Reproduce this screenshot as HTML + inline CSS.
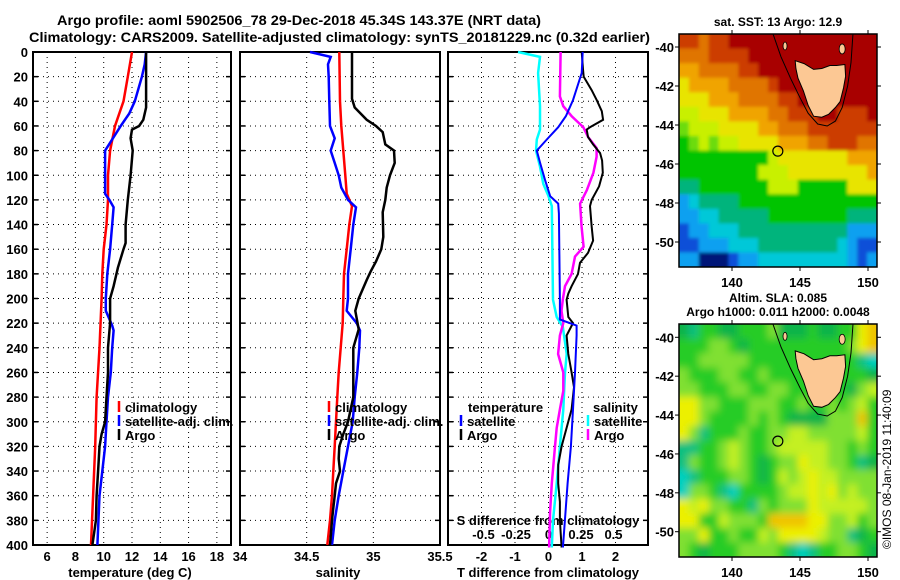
<!DOCTYPE html>
<html><head><meta charset="utf-8">
<style>
html,body{margin:0;padding:0;background:#fff;}
svg{display:block;font-family:"Liberation Sans",sans-serif;font-weight:bold;}
</style></head>
<body>
<svg id="fig" width="900" height="580" viewBox="0 0 900 580" xmlns="http://www.w3.org/2000/svg">
<defs>
<filter id="blurSla" x="-5%" y="-5%" width="110%" height="110%"><feGaussianBlur stdDeviation="4"/></filter>
<filter id="blurSst" x="-5%" y="-5%" width="110%" height="110%"><feGaussianBlur stdDeviation="1.5"/></filter>
<clipPath id="clipTop"><rect x="679" y="34" width="198" height="233"/></clipPath>
<clipPath id="clipBot"><rect x="679" y="324" width="198" height="233"/></clipPath>
</defs>
<rect width="900" height="580" fill="#fff"/>
<text x="57" y="25" font-size="14" textLength="484" lengthAdjust="spacingAndGlyphs">Argo profile: aoml 5902506_78 29-Dec-2018 45.34S 143.37E (NRT data)</text>
<text x="29" y="42" font-size="14" textLength="621" lengthAdjust="spacingAndGlyphs">Climatology: CARS2009. Satellite-adjusted climatology: synTS_20181229.nc (0.32d earlier)</text>
<g id="plots"></g>
<text x="778" y="26" font-size="12" text-anchor="middle">sat. SST: 13 Argo: 12.9</text>
<text x="778" y="302" font-size="12" text-anchor="middle">Altim. SLA: 0.085</text>
<text x="778" y="316" font-size="12" text-anchor="middle">Argo h1000: 0.011 h2000: 0.0048</text>
<text transform="translate(891,549) rotate(-90)" font-size="12" font-weight="normal">©IMOS 08-Jan-2019 11:40:09</text>
</svg>
<script>
// ---------- profile data ----------
const tempClimDepth=[0,20,40,60,80,100,120,140,160,180,200,240,280,320,360,400];
const tempClim=[12.0,11.7,11.4,10.8,10.45,10.3,10.3,10.2,10.0,9.9,9.85,9.7,9.5,9.4,9.25,9.1];
const tempSatDepth=[0,10,20,40,50,60,70,80,100,115,120,126,140,160,180,200,210,222,226,240,260,280,300,320,340,360,400];
const tempSat=[13.0,12.9,12.7,12.2,11.8,11.2,10.65,10.1,10.1,10.1,10.4,10.7,10.6,10.45,10.25,10.15,10.15,10.6,10.7,10.6,10.5,10.3,10.2,10.1,9.9,9.7,9.55];
const tempArgoDepth=[0,45,55,60,63,70,80,100,120,140,155,160,175,190,200,220,240,260,280,300,310,320,340,360,380,400];
const tempArgo=[13.0,13.0,12.8,12.5,12.0,11.9,12.05,11.9,11.7,11.55,11.55,11.4,11.0,10.7,10.45,10.45,10.3,10.3,10.2,10.1,9.85,9.7,9.6,9.5,9.45,9.2];
const salClimDepth=[0,40,60,80,100,115,125,140,160,180,200,220,240,260,280,300,320,340,360,380,400];
const salClim=[34.745,34.75,34.76,34.775,34.79,34.8,34.84,34.82,34.8,34.78,34.775,34.77,34.755,34.74,34.73,34.72,34.71,34.7,34.69,34.675,34.655];
const salSatDepth=[0,4,10,20,40,60,70,80,90,100,110,120,126,140,160,180,200,210,220,226,240,260,280,300,320,340,360,380,400];
const salSat=[34.525,34.68,34.66,34.665,34.67,34.675,34.71,34.68,34.71,34.74,34.76,34.81,34.87,34.85,34.83,34.81,34.81,34.8,34.875,34.9,34.895,34.88,34.86,34.845,34.81,34.775,34.74,34.71,34.69];
const salArgoDepth=[0,38,45,55,60,65,75,80,90,100,110,120,130,150,160,170,178,185,200,210,225,240,260,280,300,310,320,330,340,350,360,370,380,400];
const salArgo=[34.84,34.84,34.86,34.95,35.02,35.07,35.09,35.155,35.16,35.125,35.1,35.09,35.07,35.075,35.06,35.02,34.98,34.95,34.89,34.865,34.89,34.85,34.85,34.85,34.81,34.775,34.745,34.74,34.75,34.72,34.71,34.7,34.69,34.675];
const dTSatDepth=[0,17,39,52,61,71,80,90,104,117,123,131,201,217,222,230,260,290,320,350,380,402];
const dTSat=[1.02,0.99,0.73,0.52,0.29,-0.05,-0.35,-0.25,-0.1,0.05,0.29,0.31,0.34,0.34,0.84,0.84,0.79,0.73,0.67,0.57,0.49,0.43];
const dTArgoDepth=[0,14,20,31,39,48,55,61,63,69,75,82,88,98,109,120,125,142,153,163,171,180,190,196,201,215,220,230,245,260,272,290,305,320,335,350,365,380,402];
const dTArgo=[0.99,1.03,1.05,1.29,1.44,1.59,1.63,1.24,1.14,1.18,1.33,1.54,1.6,1.62,1.51,1.29,1.24,1.29,1.33,1.18,0.94,0.88,0.69,0.59,0.54,0.59,0.73,0.54,0.59,0.69,0.76,0.69,0.54,0.39,0.29,0.29,0.34,0.34,0.39];
const dSSatDepth=[0,4,17,44,63,71,80,93,107,117,125,201,215,223,245,260,290,320,350,380,402];
const dSSat=[-0.235,-0.065,-0.08,-0.065,-0.065,-0.09,-0.096,-0.065,-0.04,0,0.025,0.035,0.063,0.11,0.14,0.127,0.114,0.088,0.063,0.035,0.025];
const dSArgoDepth=[0,36,44,52,61,69,78,85,98,112,123,142,158,166,180,190,201,210,220,230,245,260,275,290,305,320,350,373,402];
const dSArgo=[0.093,0.088,0.114,0.178,0.268,0.305,0.37,0.37,0.345,0.295,0.243,0.255,0.27,0.204,0.178,0.127,0.11,0.1,0.114,0.088,0.074,0.114,0.114,0.088,0.063,0.05,0.025,0.012,0.005];
const depthTicks=[0,20,40,60,80,100,120,140,160,180,200,220,240,260,280,300,320,340,360,380,400];
const tempTicks=[6,8,10,12,14,16,18];
const salTicks=[34,34.5,35,35.5];
const salTickLabels=["34","34.5","35","35.5"];
const dTTicks=[-2,-1,0,1,2];
const dSTicks=[-0.5,-0.25,0,0.25,0.5];
const dSTickLabels=["-0.5","-0.25","0","0.25","0.5"];

// ---------- map data ----------
const sstRows=[
"rrorrRRRRRRRRRRRRRRR",
"ooorrrrRRRRRRRRRRRRR",
"aaoooorrRRRRRRRRRRRR",
"yaaaaoooorRRRRRRRRRR",
"yyyaaaoooorrRRRRRRRR",
"YYyyyaaaaoorrrRRrrrR",
"lYYYyyyyaaooorrrrrrr",
"glYlYYyyyyaaaoorrroo",
"gggggggggYyyyyyyyaaa",
"ggggggggYYYyyyyyyyya",
"ttgggggggYYYgggggyyy",
"bcttttgggggggggggggg",
"bbcctttttggggggggttt",
"Bbbccctttttttttttbbb",
"BBbbbcccttttttttcbBB",
"bbNNNBbbcccccccccbBb"];
const slaRows=[
"GtggGGggglGGGgGGggyo",
"gggllgGgggggggggglyo",
"gglllllgggggggggggtc",
"lgggllgglggggggggggG",
"llgggllggllggggggGlY",
"yyllggglllgglgglglYg",
"yylgggglglgGGGGlllog",
"yltggglggllYYlllllYg",
"ttgglYlgglYYYYYllglg",
"tlgglYlgGgllyYYllgtG",
"ctgggllgGgYlYyYYllll",
"cllgtcgggglYYyYylYll",
"yYyllggtlglllyYYYYYl",
"yyggYlllgooooyyllYgl",
"llygglggYlyyyyYlltGg",
"lgGgggllllgtctggllgG"];
const sstColors={R:"#a80000",r:"#cc3c00",o:"#e07400",a:"#f0a400",y:"#e8e400",Y:"#c8f000",l:"#6cdc10",g:"#00c400",t:"#00b47c",c:"#00c8d8",b:"#10a0f0",B:"#1050d8",N:"#001478"};
const slaColors={g:"#28cc28",G:"#10b448",l:"#80e030",Y:"#c4f020",y:"#ecf000",o:"#f0c400",t:"#10c080",c:"#00d0c0"};
const latTicks=[-40,-42,-44,-46,-48,-50];
const lonTicks=[140,145,150];
const tasmania=[[144.65,-40.7],[145.3,-40.85],[146,-41.15],[146.6,-41.1],[147.2,-40.95],[147.7,-40.95],[148.3,-40.9],[148.35,-41.5],[148.2,-42.1],[147.95,-42.8],[147.6,-43.1],[147.1,-43.45],[146.6,-43.6],[146.0,-43.55],[145.6,-43.0],[145.25,-42.25],[144.85,-41.6],[144.7,-41.1]];
const shelfLine=[[143.0,-39.3],[143.6,-40.5],[144.3,-41.6],[145.0,-42.6],[145.6,-43.4],[146.3,-43.95],[147.0,-44.05],[147.6,-43.8],[148.1,-43.1],[148.5,-42.0],[148.75,-40.8],[148.9,-39.3]];
const argoLon=143.37, argoLat=-45.34;

// ---------- drawing ----------
const NS="http://www.w3.org/2000/svg";
const root=document.getElementById('plots');
function mk(tag,attrs,parent){const e=document.createElementNS(NS,tag);for(const k in attrs)e.setAttribute(k,attrs[k]);(parent||root).appendChild(e);return e;}
function txt(s,x,y,size,anchor,parent){const t=mk('text',{x:x,y:y,'font-size':size,'text-anchor':anchor||'start'},parent);t.textContent=s;return t;}

const TOP=52,BOT=545;
const yD=d=>TOP+d*(BOT-TOP)/400;
function line(xf,xs,ds,color,w,name){
  const p=xs.map((v,i)=>xf(v).toFixed(1)+','+yD(ds[i]).toFixed(1)).join(' ');
  const el=mk('polyline',{points:p,fill:'none',stroke:color,'stroke-width':w,'stroke-linejoin':'miter'});
  
  
}
function panel(x0,x1,name,xf,xt){
  const g=mk('g',{});
  
  
  depthTicks.forEach(d=>{ if(d>0&&d<400){mk('line',{x1:x0,x2:x1,y1:yD(d),y2:yD(d),stroke:'#000','stroke-width':1,'stroke-dasharray':'1,4'},g);}
    mk('line',{x1:x0,x2:x0+5,y1:yD(d),y2:yD(d),stroke:'#000','stroke-width':1.5},g);
    mk('line',{x1:x1-5,x2:x1,y1:yD(d),y2:yD(d),stroke:'#000','stroke-width':1.5},g);});
  xt.forEach(v=>{const x=xf(v); if(x>x0+1&&x<x1-1)mk('line',{x1:x,x2:x,y1:TOP,y2:BOT,stroke:'#000','stroke-width':1,'stroke-dasharray':'1,4'},g);});
  mk('rect',{x:x0,y:TOP,width:x1-x0,height:BOT-TOP,fill:'none',stroke:'#000','stroke-width':2},g);
  return g;
}
// panel 1 temperature
const xT=v=>33+(v-5)*(198/14);
panel(33,231,'temperature-panel',xT,tempTicks);
depthTicks.forEach(d=>{const t=txt(String(d),28,yD(d)+5,13,'end');});
tempTicks.forEach(v=>{const t=txt(String(v),xT(v),561,13,'middle');});
{const t=txt('temperature (deg C)',130,577,13,'middle');}
line(xT,tempClim,tempClimDepth,'#f00',2.5,'temp-climatology-line');
line(xT,tempSat,tempSatDepth,'#00f',2.5,'temp-satellite-line');
line(xT,tempArgo,tempArgoDepth,'#000',2.5,'temp-argo-line');
// panel 2 salinity
const xS=v=>240+(v-34)*(200/1.5);
panel(240,440,'salinity-panel',xS,salTicks);
salTicks.forEach((v,i)=>{const t=txt(salTickLabels[i],xS(v),561,13,'middle');});
{const t=txt('salinity',338,577,13,'middle');}
line(xS,salClim,salClimDepth,'#f00',2.5,'sal-climatology-line');
line(xS,salSat,salSatDepth,'#00f',2.5,'sal-satellite-line');
line(xS,salArgo,salArgoDepth,'#000',2.5,'sal-argo-line');
// panel 3 differences
const xdT=v=>548.5+v*33.5;
const xdS=v=>548.5+v*130;
panel(448,648,'difference-panel',xdT,dTTicks);
dTTicks.forEach(v=>{const t=txt(String(v),xdT(v),561,13,'middle');});
{const t=txt('T difference from climatology',548,577,13,'middle');}
{const t=txt('S difference from climatology',548,525,13,'middle');}
dSTicks.forEach((v,i)=>{const t=txt(dSTickLabels[i],xdS(v),539,13,'middle');});
line(xdS,dSSat,dSSatDepth,'#0ff',2.5,'dS-satellite-line');
line(xdS,dSArgo,dSArgoDepth,'#f0f',2.5,'dS-argo-line');
line(xdT,dTArgo,dTArgoDepth,'#000',2,'dT-argo-line');
line(xdT,dTSat,dTSatDepth,'#00f',2,'dT-satellite-line');
// legends
function legend(x,y,color,label,name){
  mk('line',{x1:x,x2:x,y1:y-11,y2:y,stroke:color,'stroke-width':2.5});
  const t=txt(label,x+6,y,13,'start');
  
  
}
legend(119,412,'#f00','climatology','legend-climatology-temp');
legend(119,426,'#00f','satellite-adj. clim.','legend-satellite-temp');
legend(119,440,'#000','Argo','legend-argo-temp');
legend(329,412,'#f00','climatology','legend-climatology-sal');
legend(329,426,'#00f','satellite-adj. clim.','legend-satellite-sal');
legend(329,440,'#000','Argo','legend-argo-sal');
{const t=txt('temperature',468,412,13,'start');}
legend(461,426,'#00f','satellite','legend-dT-satellite');
legend(461,440,'#000','Argo','legend-dT-argo');
{const t=txt('salinity',593,412,13,'start');}
legend(588,426,'#0ff','satellite','legend-dS-satellite');
legend(588,440,'#f0f','Argo','legend-dS-argo');

// maps
function map(top,bot,lat40,lat50,rows,colors,name,clip,filt){
  const L=679,R=877;
  const lx=v=>732+(v-140)*13.6;
  const ly=v=>lat40+(v+40)*(lat40-lat50)/10;
  const g=mk('g',{});
  
  
  const cg=mk('g',{'clip-path':'url(#'+clip+')'},g);
  const fg=mk('g',{filter:'url(#'+filt+')'},cg);
  const nr=rows.length,nc=rows[0].length,cw=(R-L)/nc,ch=(bot-top)/nr;
  rows.forEach((r,i)=>{for(let j=0;j<nc;j++){
    let x=L+j*cw,y=top+i*ch,w=cw+0.6,h=ch+0.6;
    if(j===0){x-=10;w+=10;} if(j===nc-1){w+=10;} if(i===0){y-=10;h+=10;} if(i===nr-1){h+=10;}
    mk('rect',{x:x.toFixed(2),y:y.toFixed(2),width:w.toFixed(2),height:h.toFixed(2),fill:colors[r[j]]},fg);}});
  mk('polyline',{points:shelfLine.map(p=>lx(p[0]).toFixed(1)+','+ly(p[1]).toFixed(1)).join(' '),fill:'none',stroke:'#000','stroke-width':1},cg);
  const land=mk('polygon',{points:tasmania.map(p=>lx(p[0]).toFixed(1)+','+ly(p[1]).toFixed(1)).join(' '),fill:'#fcc894',stroke:'#000','stroke-width':1},g);
  
  
  mk('ellipse',{cx:lx(143.9),cy:ly(-39.95),rx:2,ry:4,fill:'#fcc894',stroke:'#000','stroke-width':0.8},g);
  mk('ellipse',{cx:lx(148.1),cy:ly(-40.1),rx:3,ry:5,fill:'#fcc894',stroke:'#000','stroke-width':0.8},g);
  const c=mk('circle',{cx:lx(argoLon),cy:ly(argoLat),r:5,fill:'none',stroke:'#000','stroke-width':1.2},g);
  
  
  mk('rect',{x:L,y:top,width:R-L,height:bot-top,fill:'none',stroke:'#000','stroke-width':1.5},g);
  latTicks.forEach(v=>{const y=ly(v);mk('line',{x1:L-4,x2:L,y1:y,y2:y,stroke:'#000'},g);mk('line',{x1:R,x2:R+4,y1:y,y2:y,stroke:'#000'},g);
    const t=txt(String(v),L-5,y+5,13,'end',g);});
  lonTicks.forEach(v=>{const x=lx(v);mk('line',{x1:x,x2:x,y1:top-4,y2:top,stroke:'#000'},g);mk('line',{x1:x,x2:x,y1:bot,y2:bot+4,stroke:'#000'},g);
    const t=txt(String(v),x,bot+20,13,'middle',g);});
}
map(34,267,47,242,sstRows,sstColors,'sst-map','clipTop','blurSst');
map(324,557,337.3,531.7,slaRows,slaColors,'sla-map','clipBot','blurSla');
</script>
</body></html>
